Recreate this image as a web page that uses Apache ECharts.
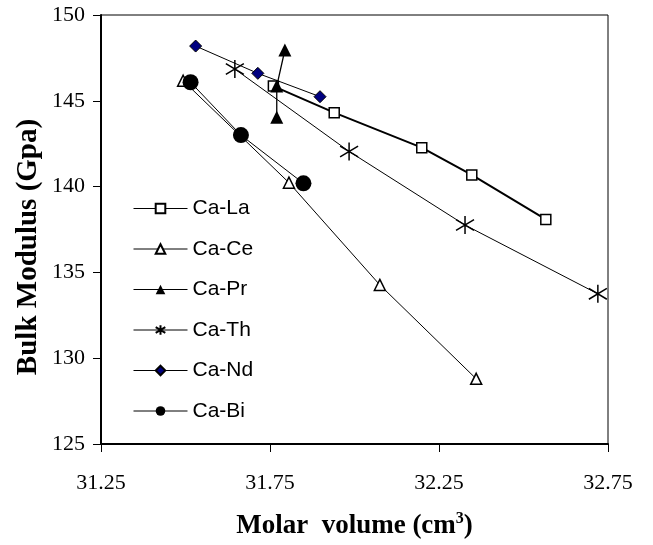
<!DOCTYPE html>
<html>
<head>
<meta charset="utf-8">
<script src="https://cdn.jsdelivr.net/npm/echarts@6/dist/echarts.min.js"></script>
<style>
    html, body { margin: 0; padding: 0; background: #fff; }
    #chart { width: 653px; height: 545px; }
</style>
</head>
<body>
<div id="chart"></div>
<script>

// values: [molar volume, bulk modulus]
var ca_la = [[31.76, 145.86], [31.94, 144.31], [32.199, 142.27], [32.347, 140.68], [32.566, 138.09]];
var ca_ce = [[31.493, 146.17], [31.806, 140.23], [32.075, 134.27], [32.36, 128.8]];
var ca_pr = [[31.77, 144.04], [31.77, 145.86], [31.794, 147.96]];
var ca_th = [[31.646, 146.85], [31.984, 142.05], [32.327, 137.76], [32.72, 133.75]];
var ca_nd = [[31.53, 148.19], [31.714, 146.6], [31.898, 145.24]];
var ca_bi = [[31.515, 146.08], [31.664, 143.0], [31.849, 140.19]];

var series_names = ['Ca-La', 'Ca-Ce', 'Ca-Pr', 'Ca-Th', 'Ca-Nd', 'Ca-Bi'];

var x_min = 31.25, x_max = 32.75, x_step = 0.5;
var y_min = 125, y_max = 150, y_step = 5;

// asterisk marker (vertical bar + x)
var star_path = 'path://M0,-10 L0,10 M-8.7,-6 L8.7,6 M-8.7,6 L8.7,-6';

document.addEventListener('DOMContentLoaded', function () {

    var chart = echarts.init(document.getElementById('chart'));

    function lineSeries(name, data, symbol, size, fill, border, bw, lw) {
        return {
            name: name,
            type: 'line',
            data: data,
            symbol: symbol,
            symbolSize: size,
            showSymbol: true,
            lineStyle: { color: '#000', width: lw },
            itemStyle: { color: fill, borderColor: border, borderWidth: bw },
            emphasis: { disabled: true }
        };
    }

    var option = {
        animation: false,
        backgroundColor: '#fff',
        grid: {
            left: 101, right: 45, top: 15, bottom: 101,
            show: true, borderColor: '#000', borderWidth: 1
        },
        legend: {
            orient: 'vertical',
            left: 128,
            top: 193,
            itemWidth: 54,
            itemHeight: 12,
            itemGap: 19.5,
            data: series_names,
            lineStyle: { width: 1 },
            textStyle: { fontFamily: 'Liberation Sans', fontSize: 21, color: '#000' }
        },
        xAxis: {
            type: 'value',
            min: x_min, max: x_max, interval: x_step,
            name: 'Molar  volume (cm{sup|3})',
            nameLocation: 'middle',
            nameGap: 67,
            nameTextStyle: {
                fontFamily: 'Liberation Serif', fontWeight: 'bold', fontSize: 27, color: '#000',
                rich: { sup: { fontFamily: 'Liberation Serif', fontWeight: 'bold', fontSize: 16, padding: [0, 0, 14, 0] } }
            },
            axisLine: { lineStyle: { color: '#000', width: 2 } },
            axisTick: { length: 8, lineStyle: { color: '#000' } },
            axisLabel: {
                margin: 28,
                fontFamily: 'Liberation Serif', fontSize: 22, color: '#000',
                formatter: function (v) { return v.toFixed(2); }
            },
            splitLine: { show: false }
        },
        yAxis: {
            type: 'value',
            min: y_min, max: y_max, interval: y_step,
            axisLine: { show: true, lineStyle: { color: '#000', width: 2 } },
            axisTick: { show: true, length: 8, lineStyle: { color: '#000' } },
            axisLabel: { margin: 16, fontFamily: 'Liberation Serif', fontSize: 22, color: '#000' },
            splitLine: { show: false }
        },
        graphic: [{
            type: 'text',
            x: 29, y: 247,
            rotation: Math.PI / 2,
            style: {
                text: 'Bulk Modulus (Gpa)',
                font: 'bold 29px "Liberation Serif"',
                fill: '#000',
                align: 'center',
                verticalAlign: 'middle'
            }
        }],
        series: [
            lineSeries('Ca-La', ca_la, 'rect', 10, '#fff', '#000', 1.5, 2),
            lineSeries('Ca-Ce', ca_ce, 'triangle', 11, '#fff', '#000', 1.5, 1),
            lineSeries('Ca-Pr', ca_pr, 'triangle', 13, '#000', '#000', 0, 1.3),
            lineSeries('Ca-Th', ca_th, star_path, 18, '#000', '#000', 1.5, 1),
            lineSeries('Ca-Nd', ca_nd, 'diamond', 12, '#000080', '#000', 1, 1),
            lineSeries('Ca-Bi', ca_bi, 'circle', 16, '#000', '#000', 0, 1)
        ]
    };

    chart.setOption(option);
});

</script>
</body>
</html>
